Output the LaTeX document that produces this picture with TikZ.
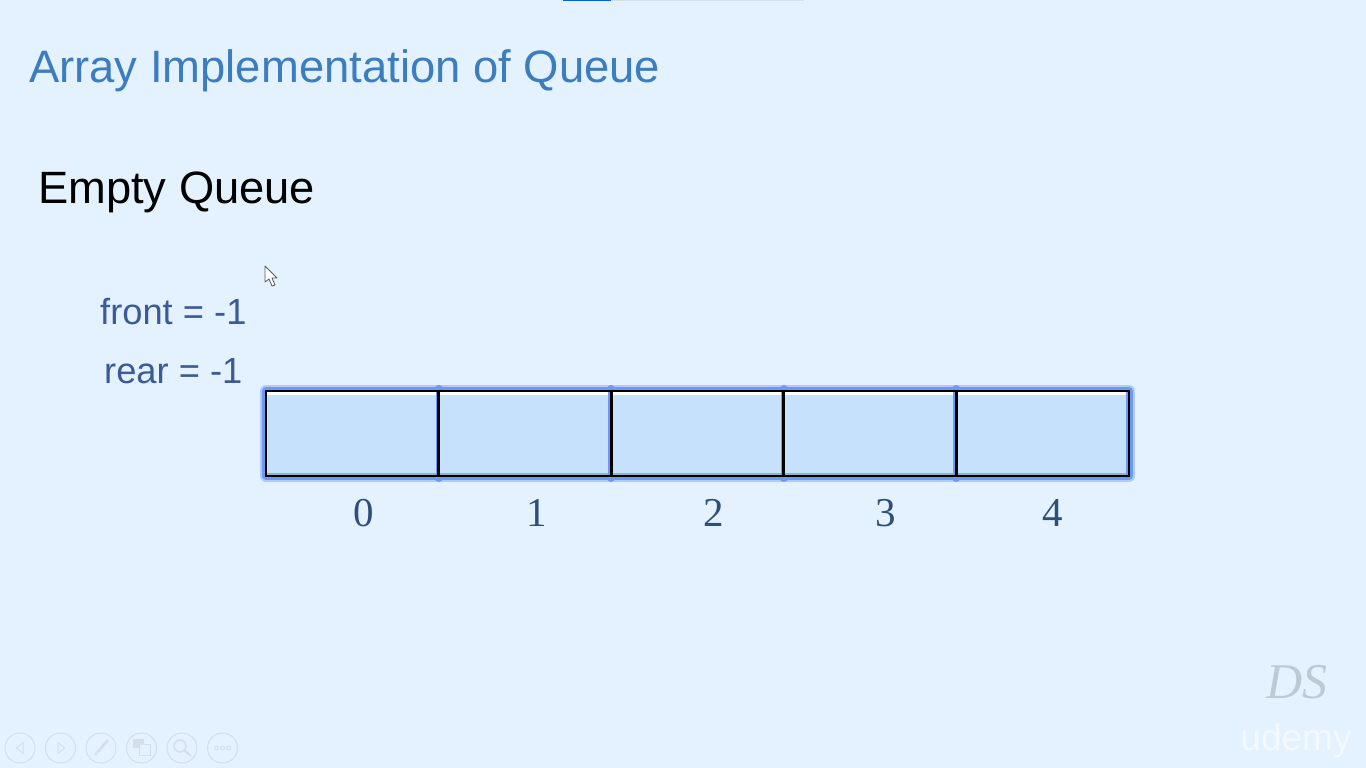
\documentclass[tikz,border=0pt]{standalone}
\usepackage{fontspec}
\setmainfont{Liberation Sans}
\newfontfamily\serifnum{Liberation Serif}
\definecolor{bgc}{HTML}{E4F2FF}
\definecolor{titlec}{HTML}{3B7DBE}
\definecolor{labelc}{HTML}{3A5A98}
\definecolor{numc}{HTML}{2F4F78}
\definecolor{cellc}{HTML}{C6E1FC}
\definecolor{glowc}{HTML}{5F90F0}
\definecolor{iconc}{HTML}{D3DFEA}
\definecolor{logoc}{HTML}{BCCAD6}
\tikzset{
  x=1pt,y=-1pt,
  cellbox/.style={minimum width=172.6pt,minimum height=85pt,inner sep=0pt,outer sep=0pt},
  glowwide/.style={draw=glowc!40!bgc,line width=12pt,line join=round},
  glownarrow/.style={draw=glowc!90!bgc,line width=8pt,line join=round},
  cellline/.style={draw=black,line width=2.8pt},
  titletext/.style={inner sep=0pt,anchor=base west,text=titlec,font=\fontsize{45.4}{50}\selectfont},
  headtext/.style={inner sep=0pt,anchor=base west,text=black,font=\fontsize{45.3}{50}\selectfont},
  vartext/.style={inner sep=0pt,anchor=base west,text=labelc,font=\fontsize{36.3}{40}\selectfont},
  idxtext/.style={inner sep=0pt,anchor=base,text=numc,font=\serifnum\fontsize{41}{46}\selectfont},
  iconring/.style={circle,draw=iconc,line width=1pt,minimum size=30pt,inner sep=0pt},
  iconmark/.style={draw=iconc,line width=1pt}
}
\begin{document}
\begin{tikzpicture}
\useasboundingbox (0,0) rectangle (1366,768);
\fill[bgc] (0,0) rectangle (1366,768);
% top progress bar
\fill[black!8!bgc] (611,0) rectangle (804,1);
\fill[blue!55!cyan!85!black] (563,0) rectangle (611,1.2);
% texts
\node[titletext] (title) at (29,83) {Array Implementation of Queue};
\node[headtext] (head) at (38,203) {Empty Queue};
\node[vartext] (front) at (100,324) {front = -1};
\node[vartext] (rear) at (104,383) {rear = -1};
% cells
\foreach \i/\cx in {0/352.3,1/524.9,2/697.5,3/870.1,4/1042.7}{
  \node[cellbox] (c\i) at (\cx,433.5) {};
}
\draw[glowwide] (c0.north west) rectangle (c4.south east);
\draw[glownarrow] (c0.north west) rectangle (c4.south east);
\foreach \i in {0,1,2,3}{
  \draw[draw=glowc!90!bgc,line width=8pt,line cap=round] ([yshift=2pt]c\i.north east) -- ([yshift=-2pt]c\i.south east);
}
\foreach \i in {0,1,2,3,4}{
  \fill[cellc] ([xshift=1pt]c\i.north west) rectangle ([xshift=-3pt]c\i.south east);
  \fill[white] ([xshift=1pt,yshift=-1pt]c\i.north west) rectangle ([xshift=-3pt,yshift=-4pt]c\i.north east);
  \fill[black!22!cellc] ([xshift=1pt,yshift=1pt]c\i.south west) rectangle ([xshift=-3pt,yshift=3pt]c\i.south east);
}
\foreach \i in {0,1,2,3,4}{ \draw[cellline] (c\i.north west) rectangle (c\i.south east); }
% indices
\node[idxtext] (n0) at (364,526) {0};
\node[idxtext] (n1) at (536.5,526) {1};
\node[idxtext] (n2) at (713.5,526) {2};
\node[idxtext] (n3) at (885.5,526) {3};
\node[idxtext] (n4) at (1053,526) {4};
% cursor
\draw[draw=black!65,fill=white,line width=.8pt,line join=round]
 (265,266) -- (265,282) -- (269,279) -- (272,286) -- (275,285) -- (272,278) -- (277,278) -- cycle;
% logo
\node[inner sep=0pt,anchor=base,text=logoc,font=\serifnum\itshape\fontsize{50}{54}\selectfont] (ds) at (1297,698) {DS};
\node[inner sep=0pt,anchor=base,text=white!55!bgc,font=\fontsize{37}{40}\selectfont] (ud) at (1296,750) {udemy};
% toolbar
\node[iconring] (b1) at (20,748) {};
\node[iconring] (b2) at (60.5,748) {};
\node[iconring] (b3) at (101,748) {};
\node[iconring] (b4) at (141.5,748) {};
\node[iconring] (b5) at (182,748) {};
\node[iconring] (b6) at (222.5,748) {};
\draw[iconmark,line join=round] (23,742.5) -- (16.5,748) -- (23,753.5) -- cycle;
\draw[iconmark,line join=round] (58,742.5) -- (64.5,748) -- (58,753.5) -- cycle;
\draw[iconmark,line width=2.5pt] (95,755) -- (108,740);
\draw[iconmark,fill=iconc] (133,739) rectangle (143,747);
\draw[iconmark,fill=bgc] (139,744) rectangle (150,755);
\draw[iconmark,line width=1.5pt] (180,746) circle (6);
\draw[iconmark,line width=2pt] (184.5,750.5) -- (191,756);
\draw[iconmark] (216.5,748) circle (2) (222.5,748) circle (2) (228.5,748) circle (2);
\end{tikzpicture}
\end{document}
